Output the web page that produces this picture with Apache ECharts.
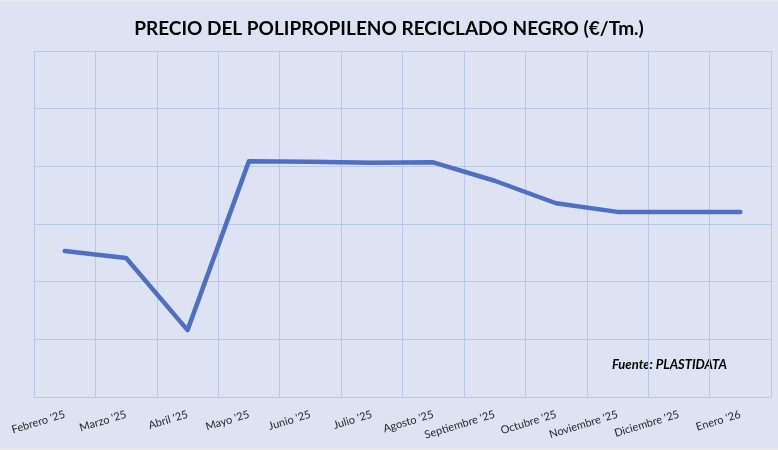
<!DOCTYPE html>
<html>
<head>
<meta charset="utf-8">
<script src="https://cdn.jsdelivr.net/npm/echarts@6/dist/echarts.min.js"></script>
<style>
    html, body { margin: 0; padding: 0; background: #dde3f3; }
    #chart { width: 778px; height: 450px; box-sizing: border-box; border-top: 2px solid #e8e8ea; border-bottom: 2px solid #e8e8ea; }
</style>
</head>
<body>
<div id="chart"></div>
<script>
// meses y precios (€/Tm)
const months = ["Febrero '25", "Marzo '25", "Abril '25", "Mayo '25", "Junio '25", "Julio '25",
    "Agosto '25", "Septiembre '25", "Octubre '25", "Noviembre '25", "Diciembre '25", "Enero '26"]
const prices = [853, 841, 716, 1009, 1008, 1006, 1007, 975, 936, 921, 921, 921]

const yMin = 600
const yMax = 1200
const yStep = 100

let chart = echarts.init(document.getElementById('chart'))
chart.setOption({
    backgroundColor: '#dde3f3',
    animation: false,
    title: {
        text: 'PRECIO DEL POLIPROPILENO RECICLADO NEGRO (€/Tm.)',
        left: 'center',
        top: 12,
        textStyle: {
            fontFamily: 'Lato',
            fontWeight: 'bold',
            fontSize: 19,
            color: '#000'
        }
    },
    grid: {
        left: 34,
        right: 7,
        top: 49,
        bottom: 51
    },
    xAxis: {
        type: 'category',
        boundaryGap: true,
        data: months,
        axisLine: { lineStyle: { color: '#b8c8e8', width: 1 } },
        axisTick: { show: false },
        axisLabel: {
            rotate: 17,
            interval: 0,
            margin: 17,
            fontFamily: 'Lato',
            fontSize: 11,
            color: '#262626'
        },
        splitLine: {
            show: true,
            interval: 0,
            lineStyle: { color: '#b8c8e8', width: 1 }
        }
    },
    yAxis: {
        type: 'value',
        min: yMin,
        max: yMax,
        interval: yStep,
        axisLine: { show: false },
        axisTick: { show: false },
        axisLabel: { show: false },
        splitLine: { lineStyle: { color: '#b8c8e8', width: 1 } }
    },
    series: [
        {
            type: 'line',
            data: prices,
            symbol: 'none',
            lineStyle: { color: '#4f6fc5', width: 4.5, cap: 'round', join: 'round' }
        }
    ],
    graphic: [
        {
            type: 'text',
            right: 49,
            top: 353,
            style: {
                text: 'Fuente: PLASTIDATA',
                fontFamily: 'Lato',
                fontWeight: 'bold',
                fontStyle: 'italic',
                fontSize: 13,
                fill: '#000',
                backgroundColor: '#dde3f3',
                padding: [3, 2]
            }
        }
    ]
});
</script>
</body>
</html>
